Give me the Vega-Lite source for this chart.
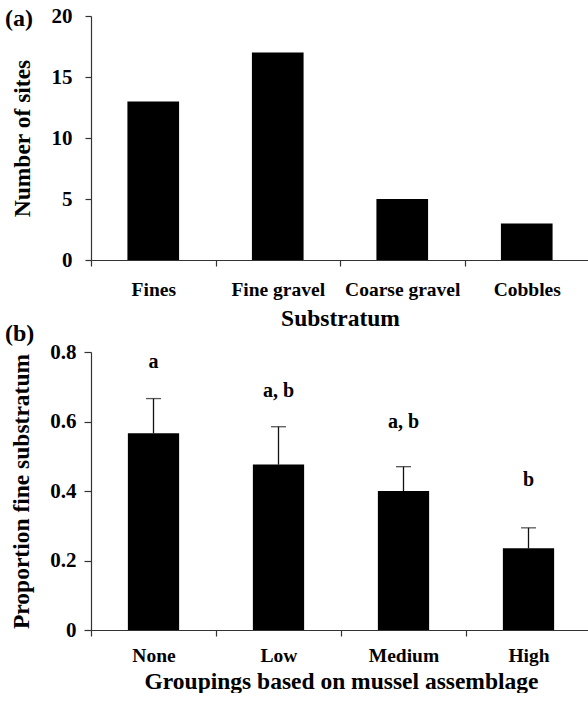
{
  "$schema": "https://vega.github.io/schema/vega-lite/v6.json",
  "padding": {"left": 5, "top": 5, "right": 0, "bottom": 0},
  "background": "white",
  "columns": 1,
  "align": "none",
  "spacing": -8,
  "config": {
    "font": "Liberation Serif",
    "view": {"stroke": null},
    "axis": {
      "labelFont": "Liberation Serif",
      "labelFontWeight": "bold",
      "labelFontSize": 20,
      "labelColor": "black",
      "titleFont": "Liberation Serif",
      "titleFontWeight": "bold",
      "titleFontSize": 23.5,
      "titleColor": "black",
      "domainColor": "#333",
      "tickColor": "#333",
      "domainWidth": 1.2,
      "tickWidth": 1.2,
      "tickSize": 6,
      "grid": false
    },
    "title": {"font": "Liberation Serif", "fontWeight": "bold", "fontSize": 24, "color": "black"}
  },
  "concat": [
    {
      "width": 498,
      "height": 244,
      "title": {"text": "(a)", "anchor": "start", "frame": "group", "dx": -86, "dy": 30},
      "data": {"values": [
        {"sub": "Fines", "n": 13},
        {"sub": "Fine gravel", "n": 17},
        {"sub": "Coarse gravel", "n": 5},
        {"sub": "Cobbles", "n": 3}
      ]},
      "mark": {"type": "bar", "color": "black", "width": {"band": 0.415}},
      "encoding": {
        "x": {"field": "sub", "type": "nominal", "sort": null,
              "scale": {"paddingInner": 0, "paddingOuter": 0},
              "axis": {"title": "Substratum", "labelAngle": 0, "tickBand": "extent", "labelPadding": 14, "titlePadding": 8, "labelFontSize": 19.5}},
        "y": {"field": "n", "type": "quantitative", "scale": {"domain": [0, 20]},
              "axis": {"title": "Number of sites", "values": [0, 5, 10, 15, 20], "labelPadding": 13, "titlePadding": 17, "labelFontSize": 21}}
      }
    },
    {
      "width": 500,
      "height": 278,
      "title": {"text": "(b)", "anchor": "start", "frame": "group", "dx": -86, "dy": 9},
      "data": {"values": [
        {"grp": "None", "mean": 0.566, "upper": 0.666, "letter": "a", "ly": 0.77},
        {"grp": "Low", "mean": 0.476, "upper": 0.585, "letter": "a, b", "ly": 0.687},
        {"grp": "Medium", "mean": 0.40, "upper": 0.47, "letter": "a, b", "ly": 0.60},
        {"grp": "High", "mean": 0.235, "upper": 0.294, "letter": "b", "ly": 0.432}
      ]},
      "encoding": {
        "x": {"field": "grp", "type": "nominal", "sort": null,
              "scale": {"paddingInner": 0, "paddingOuter": 0},
              "axis": {"title": "Groupings based on mussel assemblage", "labelAngle": 0, "tickBand": "extent", "labelPadding": 10, "titlePadding": 5, "labelFontSize": 19.5}}
      },
      "layer": [
        {
          "mark": {"type": "rule", "color": "#111", "strokeWidth": 1.3},
          "encoding": {
            "y": {"field": "mean", "type": "quantitative", "scale": {"domain": [0, 0.8]},
                  "axis": {"title": "Proportion fine substratum", "values": [0, 0.2, 0.4, 0.6, 0.8], "format": "~g", "labelPadding": 8, "titlePadding": 16, "tickSize": 7, "labelFontSize": 21}},
            "y2": {"field": "upper"}
          }
        },
        {
          "mark": {"type": "tick", "color": "#111", "size": 15, "thickness": 1.3, "orient": "horizontal"},
          "encoding": {"y": {"field": "upper", "type": "quantitative"}}
        },
        {
          "mark": {"type": "bar", "color": "black", "width": {"band": 0.41}},
          "encoding": {"y": {"field": "mean", "type": "quantitative"}}
        },
        {
          "mark": {"type": "text", "font": "Liberation Serif", "fontWeight": "bold", "fontSize": 20, "baseline": "middle"},
          "encoding": {
            "y": {"field": "ly", "type": "quantitative"},
            "text": {"field": "letter"}
          }
        }
      ]
    }
  ]
}
